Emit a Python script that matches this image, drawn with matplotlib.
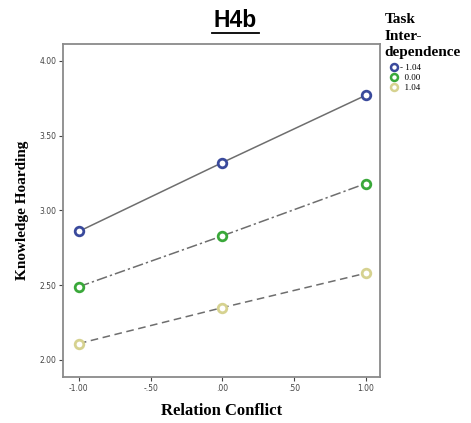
import matplotlib; matplotlib.use("Agg")
import matplotlib.pyplot as plt
from matplotlib.lines import Line2D

conflict = [-1.0, 0.0, 1.0]
groups = ["- 1.04", "  0.00", "  1.04"]
hoard_low = [2.86, 3.32, 3.77]
hoard_mid = [2.49, 2.83, 3.18]
hoard_high = [2.11, 2.35, 2.58]
xticks = [-1.0, -0.5, 0.0, 0.5, 1.0]
xticklabels = ["-1.00", "-.50", ".00", ".50", "1.00"]
yticks = [2.0, 2.5, 3.0, 3.5, 4.0]
yticklabels = ["2.00", "2.50", "3.00", "3.50", "4.00"]

COLS = ["#3a4a9c", "#3aa83a", "#d6d290"]
STYLES = ["-", (0, (7, 2, 1.5, 2)), (0, (5, 3))]
LINE = "#6e6e6e"
SERIF = ["Liberation Serif", "DejaVu Serif"]

fig = plt.figure(figsize=(4.71, 4.23), dpi=100)
ax = fig.add_axes([0.134, 0.109, 0.673, 0.787])

for ys, c, ls in zip([hoard_low, hoard_mid, hoard_high], COLS, STYLES):
    ax.plot(conflict, ys, color=LINE, lw=1.1, linestyle=ls, zorder=2)
    ax.plot(conflict, ys, linestyle="none", marker="o", ms=6.2, mfc="white",
            mec=c, mew=2, zorder=3)

ax.set_xlim(-1.11, 1.10)
ax.set_ylim(1.887, 4.113)
ax.set_xticks(xticks, xticklabels)
ax.set_yticks(yticks, yticklabels)
ax.tick_params(labelsize=5.5, colors="#444444", length=3, width=0.8, direction="out", pad=2)
for s in ax.spines.values():
    s.set_color("#8a8a8a"); s.set_linewidth(1.3)

ax.set_xlabel("Relation Conflict", fontsize=12, fontweight="bold", family=SERIF, labelpad=7)
ax.set_ylabel("Knowledge Hoarding", fontsize=11, fontweight="bold", family=SERIF, labelpad=7)

fig.text(0.500, 0.925, "H4b", fontsize=16.5, fontweight="bold", ha="center", va="bottom",
         family=["Liberation Sans", "DejaVu Sans"])
fig.add_artist(Line2D([0.451, 0.549], [0.922, 0.922], color="black", lw=1.3,
                      transform=fig.transFigure))

fig.text(0.817, 0.860, "Task\nInter-\ndependence", fontsize=11, fontweight="bold",
         family=SERIF, ha="left", va="bottom", linespacing=1.35)
handles = [Line2D([], [], linestyle="none", marker="o", ms=5, mfc="white", mec=c, mew=1.8)
           for c in COLS]
leg = fig.legend(handles, groups, loc="upper left", bbox_to_anchor=(0.815, 0.862),
                 frameon=False, handletextpad=0.2, labelspacing=0.2,
                 handlelength=1.0, borderpad=0.1, prop={"family": SERIF, "size": 6.5})

fig.savefig("out.png", dpi=100)
